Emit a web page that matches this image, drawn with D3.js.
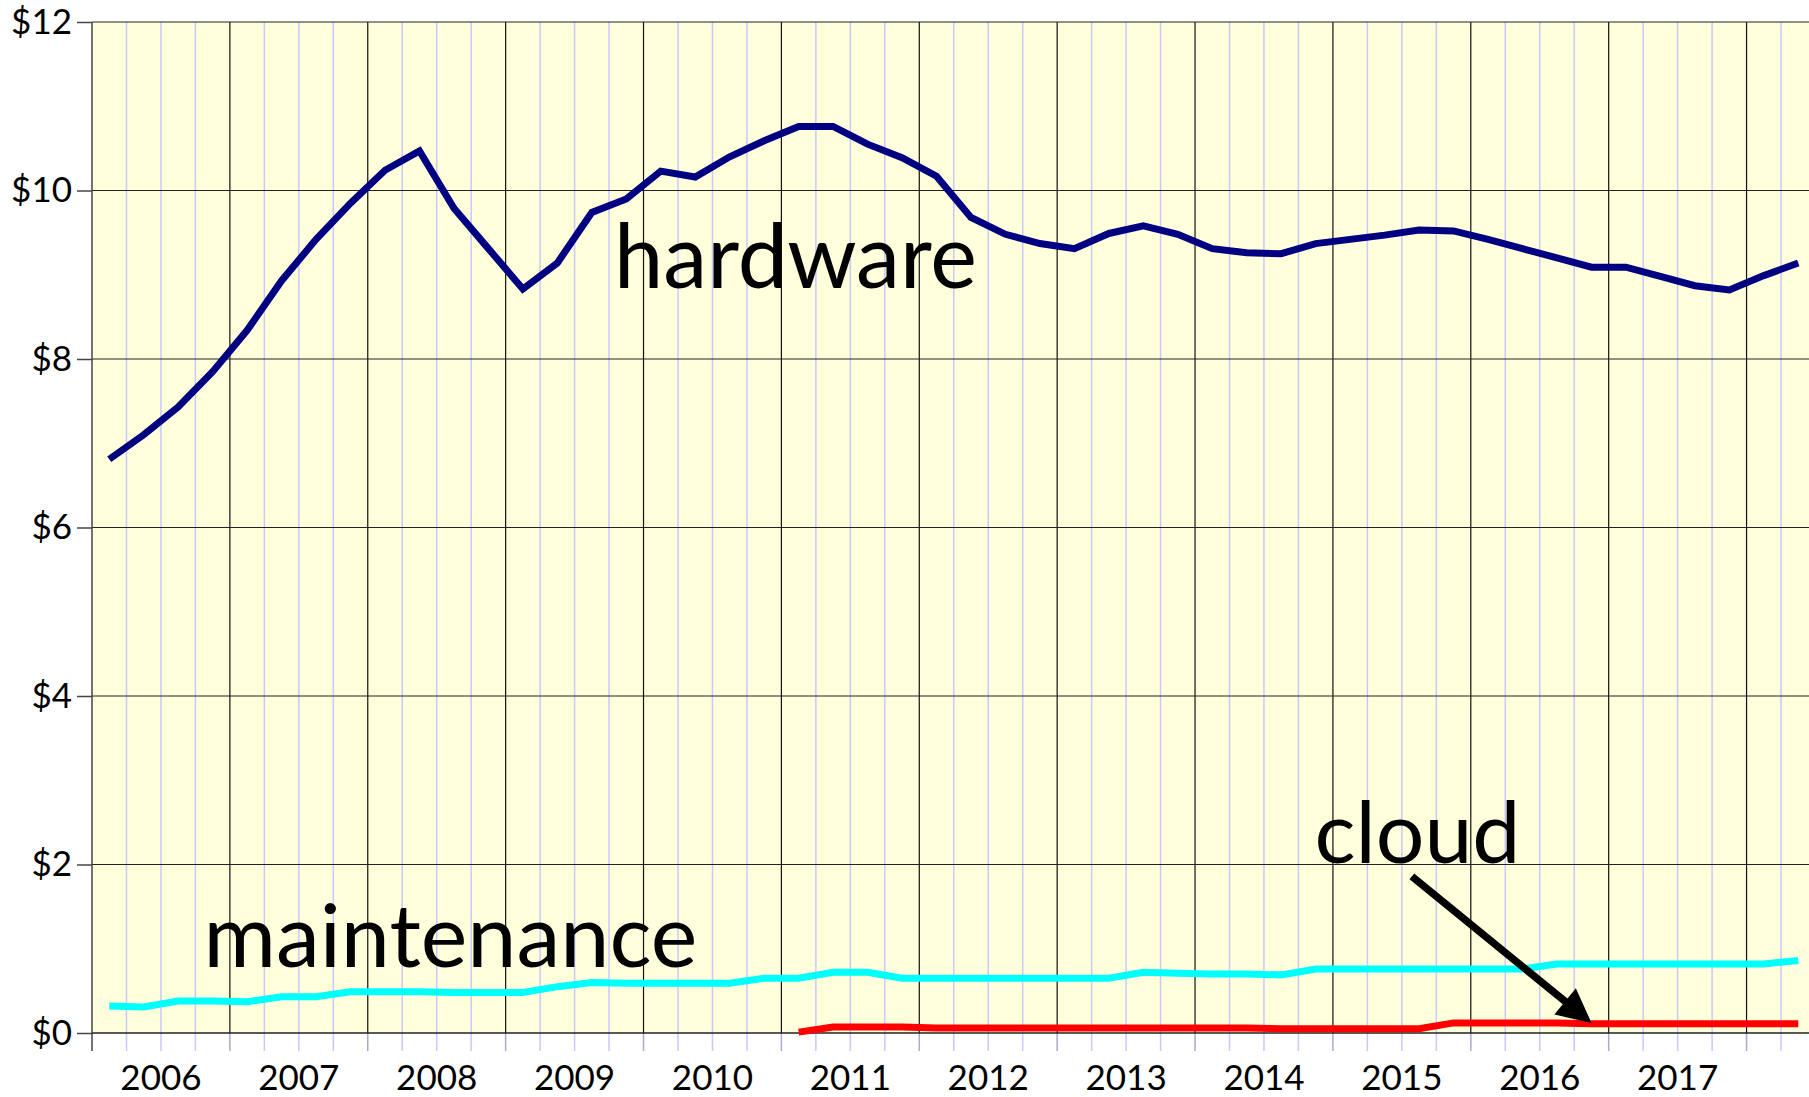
<!DOCTYPE html>
<html><head><meta charset="utf-8">
<script src="https://cdn.jsdelivr.net/npm/d3@7"></script>
<style>html,body{margin:0;padding:0;background:#fff;overflow:hidden}</style>
</head><body><svg id="c" width="1809" height="1097"></svg>
<script>
// ---- data ----
const quarters = [
 "2006Q1","2006Q2","2006Q3","2006Q4","2007Q1","2007Q2","2007Q3","2007Q4",
 "2008Q1","2008Q2","2008Q3","2008Q4","2009Q1","2009Q2","2009Q3","2009Q4",
 "2010Q1","2010Q2","2010Q3","2010Q4","2011Q1","2011Q2","2011Q3","2011Q4",
 "2012Q1","2012Q2","2012Q3","2012Q4","2013Q1","2013Q2","2013Q3","2013Q4",
 "2014Q1","2014Q2","2014Q3","2014Q4","2015Q1","2015Q2","2015Q3","2015Q4",
 "2016Q1","2016Q2","2016Q3","2016Q4","2017Q1","2017Q2","2017Q3","2017Q4",
 "2018Q1","2018Q2"];
const yearLabels = ["2006","2007","2008","2009","2010","2011","2012","2013","2014","2015","2016","2017"];
const yTicks = [0,2,4,6,8,10,12];
const hardware = [6.81,7.10,7.43,7.85,8.34,8.93,9.42,9.85,10.24,10.47,9.79,9.31,8.83,9.14,9.74,9.90,
 10.23,10.16,10.40,10.59,10.76,10.76,10.55,10.39,10.17,9.68,9.48,9.37,9.31,9.49,9.58,9.48,
 9.31,9.26,9.25,9.37,9.42,9.47,9.53,9.52,9.42,9.31,9.20,9.09,9.09,8.98,8.87,8.82,8.99,9.14];
const maintenance = [0.32,0.31,0.38,0.38,0.37,0.43,0.43,0.49,0.49,0.49,0.48,0.48,0.48,0.55,0.60,0.59,
 0.59,0.59,0.59,0.65,0.65,0.72,0.72,0.65,0.65,0.65,0.65,0.65,0.65,0.65,0.72,0.71,
 0.70,0.70,0.69,0.76,0.76,0.76,0.76,0.76,0.76,0.76,0.82,0.82,0.82,0.82,0.82,0.82,0.82,0.86];
const cloud = [null,null,null,null,null,null,null,null,null,null,null,null,null,null,null,null,
 null,null,null,null,0.01,0.07,0.07,0.07,0.06,0.06,0.06,0.06,0.06,0.06,0.06,0.06,
 0.06,0.06,0.05,0.05,0.05,0.05,0.05,0.12,0.12,0.12,0.12,0.11,0.11,0.11,0.11,0.11,0.11,0.11];
const annotations = [
  {text:"hardware", q:"2009Q4", dx:5, v:8.84, width:363},
  {text:"maintenance", q:"2006Q4", dx:8, v:0.78, width:494},
  {text:"cloud", q:"2014Q4", dx:16, v:2.02, width:206}
];
const arrowFrom = {q:"2015Q3", dx:10, v:1.86};
const arrowTo = {q:"2016Q4", v:0.12};

// ---- layout ----
const svg = d3.select("#c");
const L = 92, R = 1815.5, T = 22, B = 1033;
const FONT = "Lato, 'Open Sans', sans-serif";
const x = d3.scaleBand().domain(quarters).range([L, R]).padding(0);
const y = d3.scaleLinear().domain([0,12]).range([B, T]);
const cx = q => x(q) + x.bandwidth()/2;

svg.append("rect").attr("x",L).attr("y",T).attr("width",R-L).attr("height",B-T).attr("fill","#FFFFDC");

// minor (quarter) grid lines
const minor = quarters.slice(1).filter(q => !q.endsWith("Q1"));
svg.append("g").selectAll("line").data(minor).join("line")
  .attr("x1",d=>x(d)).attr("x2",d=>x(d)).attr("y1",T).attr("y2",B+18)
  .attr("stroke","#C8C8FF").attr("stroke-width",1.5);
// major (year) grid lines
const major = quarters.slice(1).filter(q => q.endsWith("Q1"));
svg.append("g").selectAll("line").data(major).join("line")
  .attr("x1",d=>x(d)).attr("x2",d=>x(d)).attr("y1",T).attr("y2",B)
  .attr("stroke","#111").attr("stroke-width",1.2);
svg.append("g").selectAll("line").data(major).join("line")
  .attr("x1",d=>x(d)).attr("x2",d=>x(d)).attr("y1",B).attr("y2",B+18)
  .attr("stroke","#AAAACC").attr("stroke-width",1.5);

// horizontal grid
svg.append("g").selectAll("line").data(yTicks.slice(1)).join("line")
  .attr("x1",L).attr("x2",R).attr("y1",d=>y(d)).attr("y2",d=>y(d))
  .attr("stroke","#222").attr("stroke-width",1.2);

// y axis
const ya = svg.append("g").attr("transform",`translate(${L},0)`)
  .call(d3.axisLeft(y).tickValues(yTicks).tickFormat(d=>"$"+d).tickSize(15).tickPadding(5));
ya.select(".domain").remove();
ya.selectAll(".tick line").attr("stroke","#444").attr("stroke-width",1.5);
ya.selectAll("text").attr("font-family",FONT).attr("font-size",35).attr("fill","#000");

// axes lines
svg.append("line").attr("x1",L).attr("x2",L).attr("y1",T).attr("y2",B+18).attr("stroke","#444").attr("stroke-width",1.5);
svg.append("line").attr("x1",L).attr("x2",R).attr("y1",B).attr("y2",B).attr("stroke","#222").attr("stroke-width",1.5);

// year labels
svg.append("g").selectAll("text").data(yearLabels).join("text")
  .attr("x",d=>x(d+"Q1") + 2*x.bandwidth()).attr("y",1090)
  .attr("text-anchor","middle").attr("font-family",FONT).attr("font-size",35).attr("fill","#000")
  .text(d=>d);

// series lines
const line = d3.line().defined(d=>d.v!=null).x(d=>cx(d.q)).y(d=>y(d.v));
const series = [
  {vals:hardware, color:"#000080"},
  {vals:maintenance, color:"#00FFFF"},
  {vals:cloud, color:"#FF0000"}
];
series.forEach(s=>{
  svg.append("path").datum(quarters.map((q,i)=>({q, v:s.vals[i]})))
    .attr("d",line).attr("fill","none").attr("stroke",s.color)
    .attr("stroke-width",7).attr("stroke-linejoin","miter").attr("stroke-linecap","butt");
});

// annotations
annotations.forEach(a=>{
  const t = svg.append("text").attr("x",x(a.q)+a.dx).attr("y",y(a.v))
    .attr("font-family",FONT).attr("font-size",100).attr("fill","#000").text(a.text);
  const w = t.node().getComputedTextLength();
  t.attr("font-size", 100*a.width/w);
});

// arrow
const x1 = x(arrowFrom.q)+arrowFrom.dx, y1 = y(arrowFrom.v), x2 = cx(arrowTo.q), y2 = y(arrowTo.v);
const ang = Math.atan2(y2-y1, x2-x1), hl = 34, hw = 17;
const bx = x2 - hl*Math.cos(ang), by = y2 - hl*Math.sin(ang);
svg.append("line").attr("x1",x1).attr("y1",y1).attr("x2",bx+2*Math.cos(ang)).attr("y2",by+2*Math.sin(ang))
  .attr("stroke","#000").attr("stroke-width",7.5);
svg.append("path").attr("d",`M${x2},${y2}L${bx+hw*Math.sin(ang)},${by-hw*Math.cos(ang)}L${bx-hw*Math.sin(ang)},${by+hw*Math.cos(ang)}Z`)
  .attr("fill","#000");
</script></body></html>
